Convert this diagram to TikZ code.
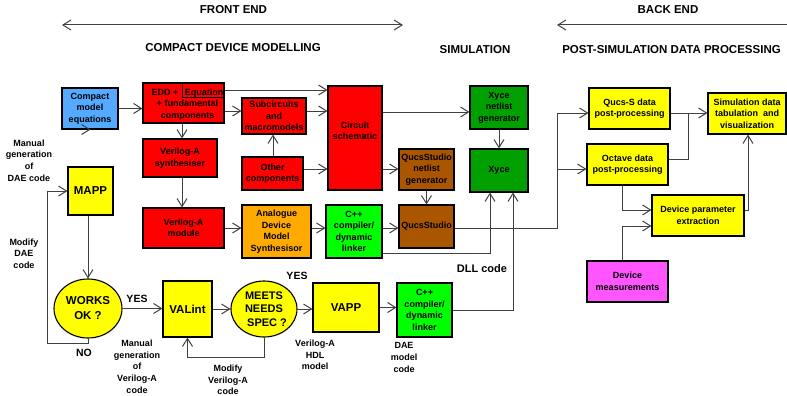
\documentclass[tikz,border=0pt]{standalone}
\usepackage{fontspec}
\setmainfont{Liberation Sans}
\usetikzlibrary{arrows.meta,shapes.geometric}
\definecolor{cblue}{HTML}{55AAFF}
\definecolor{cred}{HTML}{FF0000}
\definecolor{cyel}{HTML}{FFFF00}
\definecolor{corange}{HTML}{FFAA00}
\definecolor{cgreen}{HTML}{00FF00}
\definecolor{cdgreen}{HTML}{00A000}
\definecolor{cbrown}{HTML}{AA5500}
\definecolor{cmag}{HTML}{FF55FF}
\definecolor{lc}{HTML}{404040}
\begin{document}
\begin{tikzpicture}[x=1pt,y=-1pt,
  box/.style={draw=black, line width=1.1pt, inner sep=1pt, align=center,
    font=\bfseries\fontsize{9}{11.5}\selectfont},
  big/.style={font=\bfseries\fontsize{11.5}{15}\selectfont},
  oval/.style={box, ellipse, fill=cyel, inner sep=0pt},
  arr/.style={draw=lc, line width=1pt, -{Straight Barb[length=8pt,width=10pt]}},
  harr/.style={draw=lc, line width=1pt, {Straight Barb[length=8pt,width=10pt]}-{Straight Barb[length=8pt,width=10pt]}},
  ln/.style={draw=lc, line width=1pt},
  lbl/.style={align=center, inner sep=0pt, font=\bfseries\fontsize{9}{11.7}\selectfont},
  yn/.style={inner sep=0pt, font=\bfseries\fontsize{10.5}{12}\selectfont},
  ttl/.style={inner sep=0pt, font=\bfseries\fontsize{11.5}{14}\selectfont}]
\fill[white] (0,0) rectangle (787,396);
\useasboundingbox (0,0) rectangle (787,396);

% titles
\node[ttl] (tfe) at (233.5,10) {FRONT END};
\node[ttl] (tbe) at (668,10) {BACK END};
\node[ttl] (tcdm) at (233,48) {COMPACT DEVICE MODELLING};
\node[ttl] (tsim) at (475,50) {SIMULATION};
\node[ttl] (tpost) at (671.5,50) {POST-SIMULATION DATA PROCESSING};
\coordinate (fe1) at (62,25);
\coordinate (fe2) at (403,25);
\coordinate (be1) at (557,25);
\coordinate (be2) at (787,25);
\draw[harr] (fe1) -- (fe2);
\draw[arr] (be2) -- (be1);

% boxes
\node[box, fill=cblue, minimum width=56, minimum height=41] (comp) at (90,108.5) {Compact\\model\\equations};
\node[box, fill=cred, minimum width=81, minimum height=40] (edd) at (183.5,103) {};
\node[box, draw=none, fill=none] (eddt) at (187.5,104.5) {EDD +\ \ \,Equation\\+ fundamental\\components};
\draw[line width=0.9pt] (182.5,85) -- (182.5,97.5) -- (223,97.5);
\node[box, fill=cred, minimum width=64, minimum height=36] (sub) at (274,116) {Subcircuits\\and\\macromodels};
\node[box, fill=cred, minimum width=54, minimum height=104] (circ) at (355,138) {};
\node[box, draw=none, fill=none] (circt) at (355,131) {Circuit\\schematic};
\node[box, fill=cred, minimum width=74, minimum height=38] (vsyn) at (180,158) {Verilog-A\\synthesiser};
\node[box, fill=cred, minimum width=61, minimum height=33] (other) at (272.5,173.5) {Other\\components};
\node[box, fill=cred, minimum width=81, minimum height=40] (vmod) at (183.5,228) {Verilog-A\\module};
\node[box, fill=corange, minimum width=69, minimum height=53] (adms) at (276.5,231.5) {Analogue\\Device\\Model\\Synthesisor};
\node[box, fill=cgreen, minimum width=56, minimum height=53] (cpp1) at (354,231.5) {C++\\compiler/\\dynamic\\linker};
\node[box, fill=cbrown, minimum width=55, minimum height=41] (qsnet) at (426.5,169.5) {QucsStudio\\netlist\\generator};
\node[box, fill=cbrown, minimum width=55, minimum height=43] (qs) at (426.5,226.5) {QucsStudio};
\node[box, fill=cdgreen, minimum width=58, minimum height=43] (xnet) at (499,107.5) {Xyce\\netlist\\generator};
\node[box, fill=cdgreen, minimum width=58, minimum height=43] (xyce) at (499,170.5) {Xyce};
\node[box, fill=cyel, minimum width=81, minimum height=41] (qpost) at (629.5,108.5) {Qucs-S data\\post-processing};
\node[box, fill=cyel, minimum width=78, minimum height=41] (sim) at (747,113.5) {Simulation data\\tabulation\ \ and\\visualization};
\node[box, fill=cyel, minimum width=81, minimum height=41] (oct) at (627.5,164.5) {Octave data\\post-processing};
\node[box, fill=cyel, minimum width=92, minimum height=41] (dpe) at (698,215.5) {Device parameter\\extraction};
\node[box, fill=cmag, minimum width=81, minimum height=41] (meas) at (627.5,281.5) {Device\\measurements};
\node[box, big, fill=cyel, minimum width=45, minimum height=48] (mapp) at (90.5,191) {MAPP};
\node[oval, big, minimum width=68, minimum height=59] (works) at (88,308.5) {WORKS\\OK ?};
\node[box, big, fill=cyel, minimum width=49, minimum height=56] (valint) at (187.5,309) {VALint};
\node[oval, font=\bfseries\fontsize{11}{13.5}\selectfont, minimum width=66, minimum height=56] (meets) at (264,309) {MEETS\\NEEDS\\\ \ SPEC ?};
\node[box, big, fill=cyel, minimum width=66, minimum height=49] (vapp) at (346,307.5) {VAPP};
\node[box, fill=cgreen, minimum width=55, minimum height=54] (cpp2) at (424.5,310) {C++\\compiler/\\dynamic\\linker};

% labels
\node[lbl] (l1) at (29,160.5) {Manual\\generation\\of\\DAE code};
\node[lbl] (l2) at (24,253.5) {Modify\\DAE\\code};
\node[yn] (lno) at (84,353) {NO};
\node[yn] (lyes1) at (137,299) {YES};
\node[lbl] (l3) at (137,366.5) {Manual\\generation\\of\\Verilog-A\\code};
\node[lbl] (l4) at (228,380) {Modify\\Verilog-A\\code};
\node[yn] (lyes2) at (297,276) {YES};
\node[lbl] (l5) at (315,355) {Verilog-A\\HDL\\model};
\node[lbl] (l6) at (404,357.5) {DAE\\model\\code};
\node[inner sep=0pt, font=\bfseries\fontsize{11}{13}\selectfont] (ldll) at (482,269) {DLL code};

% connectors
\draw[arr] (comp.east) -- (comp.east -| edd.west);
\draw[arr] (comp.south) -- (comp.south -| mapp.north);
\draw[arr] (edd.east |- 0,90) -- (circ.west |- 0,90);
\draw[arr] (edd.east |- 0,111) -- (sub.west |- 0,111);
\draw[arr] (sub.east |- 0,111) -- (circ.west |- 0,111);
\draw[arr] (edd.south -| 182,0) -- (vsyn.north -| 182,0);
\draw[arr] (vsyn.south -| 182,0) -- (vmod.north -| 182,0);
\draw[arr] (other.north -| 273,0) -- (sub.south -| 273,0);
\draw[arr] (other.east |- 0,169) -- (circ.west |- 0,169);
\draw[arr] (vmod.east |- 0,228) -- (adms.west |- 0,228);
\draw[arr] (adms.east |- 0,228) -- (cpp1.west |- 0,228);
\draw[arr] (cpp1.east |- 0,228) -- (qs.west |- 0,228);
\draw[arr] (circ.east |- 0,112) -- (xnet.west |- 0,112);
\draw[arr] (circ.east |- 0,169) -- (qsnet.west |- 0,169);
\draw[arr] (qsnet.south) -- (qs.north);
\draw[arr] (xnet.south) -- (xyce.north);
\draw[arr] (cpp1.east |- 0,253) -| (xyce.south -| 490,0);
\draw[arr] (cpp2.east) -| (xyce.south -| 513,0);
\coordinate (j1) at (557,228);
\coordinate (j2) at (557,113);
\coordinate (j3) at (557,169);
\draw[arr] (qs.east |- j1) -- (j1) -- (j2) -- (qpost.west |- j2);
\draw[arr] (j3) -- (oct.west |- j3);
\draw[arr] (qpost.east |- 0,113) -- (sim.west |- 0,113);
\coordinate (j4) at (688,113);
\draw[ln] (oct.east |- 0,159) -| (j4);
\draw[arr] (oct.south -| 622,0) |- (dpe.west |- 0,210);
\draw[arr] (meas.north -| 622,0) |- (dpe.west |- 0,226);
\draw[arr] (dpe.east |- 0,210) -| (sim.south -| 748,0);
\draw[arr] (mapp.south -| works.north) -- (works.north);
\draw[arr] (works.south) -- (works.south |- 0,343) -- (47,343) |- (mapp.west);
\draw[arr] (works.east) -- (works.east -| valint.west);
\draw[arr] (valint.east) -- (valint.east -| meets.west);
\draw[arr] (meets.east) -- (meets.east -| vapp.west);
\draw[arr] (vapp.east) -- (vapp.east -| cpp2.west);
\draw[arr] (meets.south) -- (meets.south |- 0,357) -| (valint.south);
\end{tikzpicture}
\end{document}
